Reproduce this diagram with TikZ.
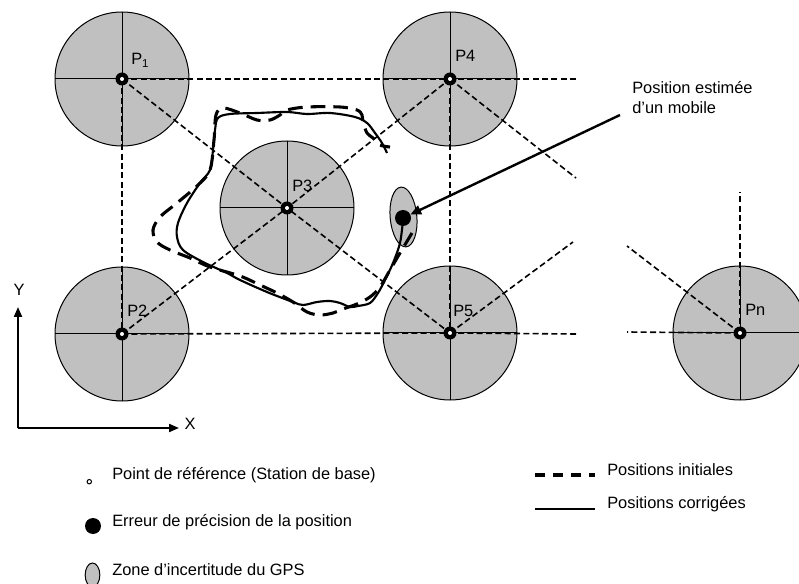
\documentclass[tikz,border=0pt]{standalone}
\usepackage{fontspec}
\setmainfont{Liberation Sans}
\usetikzlibrary{arrows.meta,shapes.geometric}
\definecolor{zonegray}{RGB}{192,192,192}

\begin{document}
\begin{tikzpicture}[x=0.75pt,y=-0.75pt,
  font=\fontsize{12.3}{15}\selectfont,
  zone/.style={fill=zonegray,draw=black,line width=0.75pt},
  cross/.style={line width=0.75pt},
  grid/.style={line width=1.2pt,dash pattern=on 4.5pt off 2.5pt},
  initial/.style={line width=2.3pt,dash pattern=on 11pt off 6pt},
  corrected/.style={line width=1.6pt},
  pointer/.style={line width=1.8pt,-{Triangle[length=8pt,width=7pt]}},
  axis/.style={line width=1.5pt,-{Triangle[length=7.5pt,width=6pt]}},
  plabel/.style={inner sep=0pt,anchor=base west},
  dot/.style={circle,fill=black,inner sep=0pt,minimum size=12pt},
  gpszone/.style={ellipse,zone,inner sep=0pt}]

\useasboundingbox (0,0) rectangle (799,584);

% Draw the zones around the base stations
\foreach \n/\x/\y in {P1/122/79,P2/122/334,P3/287/208,P4/450/79,P5/450/333,Pn/740/333}{
  \coordinate (\n) at (\x,\y);
  \draw[zone] (\n) circle (67);
  \draw[cross] (\n) ++(-67,0) -- ++(134,0);
  \draw[cross] (\n) ++(0,-67) -- ++(0,134);
}

% Free ends of the grid
\coordinate (eastP4) at (577,79);
\coordinate (seP4) at (576,178);
\coordinate (eastP5) at (577,334);
\coordinate (neP5) at (573,242);
\coordinate (northPn) at (740,192);
\coordinate (nwPn) at (627,246);
\coordinate (westPn) at (627,332);

% Draw the grid between the stations
\draw[grid] (P1) -- (P4) -- (eastP4);
\draw[grid] (P2) -- (P5) -- (eastP5);
\draw[grid] (P1) -- (P2);
\draw[grid] (P4) -- (P5);
\draw[grid] (P1) -- (P3) -- (P5);
\draw[grid] (P2) -- (P3) -- (P4);
\draw[grid] (P4) -- (seP4);
\draw[grid] (P5) -- (neP5);
\draw[grid] (Pn) -- (northPn);
\draw[grid] (Pn) -- (nwPn);
\draw[grid] (Pn) -- (westPn);

% Draw the base stations
\foreach \n in {P1,P2,P3,P4,P5,Pn}{
  \fill (\n) circle (6.5);
  \fill[white] (\n) circle (2);
}

% Label the stations
\node[plabel] (lP1) at (131,65) {P\textsubscript{1}};
\node[plabel] (lP2) at (127,317) {P2};
\node[plabel] (lP3) at (292,192) {P3};
\node[plabel] (lP4) at (455,62) {P4};
\node[plabel] (lP5) at (453,317) {P5};
\node[plabel] (lPn) at (745,316) {Pn};

% Draw the GPS uncertainty zone
\node[gpszone,minimum width=20pt,minimum height=45pt,rotate=5] (gps) at (403.5,217) {};

% Draw the initial positions
\draw[initial] plot[smooth,tension=0.55] coordinates {
  (412,233) (400,253) (390,270) (380,287) (370,297) (357,304) (343,309)
  (333,313) (320,315) (307,312) (293,302) (277,293) (260,285) (240,276)
  (210,267) (190,258) (170,250) (157,242) (153,230) (160,217) (177,203)
  (198,185) (210,170) (214,140) (216,115) (223,108) (240,113) (257,120)
  (270,120) (280,115) (287,110) (307,107) (340,107) (357,110) (362,115)
  (363,122) (367,133) (373,138) (380,145) (390,147)};

% Draw the corrected positions
\draw[corrected] plot[smooth,tension=0.55] coordinates {
  (403,220) (400,243) (393,263) (385,280) (378,293) (370,303) (358,306)
  (350,307) (340,303) (330,301) (317,302) (303,305) (293,302) (267,292)
  (240,280) (227,273) (203,262) (183,250) (177,237) (178,223) (187,203)
  (200,183) (210,170) (213,150) (215,130) (218,118) (230,114) (257,113)
  (287,112) (307,114) (330,113) (355,117) (367,123) (375,133) (382,143)
  (387,153)};

% Draw the estimated position of the mobile
\node[dot] (mobile) at (403,218) {};
\coordinate (tail) at (620,115);
\draw[pointer] (tail) -- (mobile);
\node[align=left,anchor=north west,inner sep=0pt] (estim) at (632,81)
  {Position estimée\\d’un mobile};

% Draw the axes
\coordinate (O) at (18,428);
\coordinate (Yend) at (18,307);
\coordinate (Xend) at (179,428);
\draw[axis] (O) -- (Yend);
\draw[axis] (O) -- (Xend);
\node (ylab) at (19,290) {Y};
\node (xlab) at (190,424) {X};

% Legend
\draw[line width=0.75pt] (89.3,481.7) circle (2.2);
\node[plabel] (lref) at (112,479) {Point de référence (Station de base)};
\node[dot] (ldot) at (93,526) {};
\node[plabel] (lerr) at (112,526) {Erreur de précision de la position};
\node[gpszone,minimum width=11pt,minimum height=18pt] (lzone) at (92.5,575) {};
\node[plabel] (lgps) at (112,575) {Zone d’incertitude du GPS};
\coordinate (ia) at (535,475);
\coordinate (ib) at (595,475);
\draw[line width=2.3pt,dash pattern=on 7.5pt off 6pt] (ia) -- (ib);
\node[plabel] (linit) at (607,475) {Positions initiales};
\coordinate (ca) at (535,509);
\coordinate (cb) at (595,509);
\draw[corrected] (ca) -- (cb);
\node[plabel] (lcorr) at (607,508) {Positions corrigées};

\end{tikzpicture}
\end{document}
